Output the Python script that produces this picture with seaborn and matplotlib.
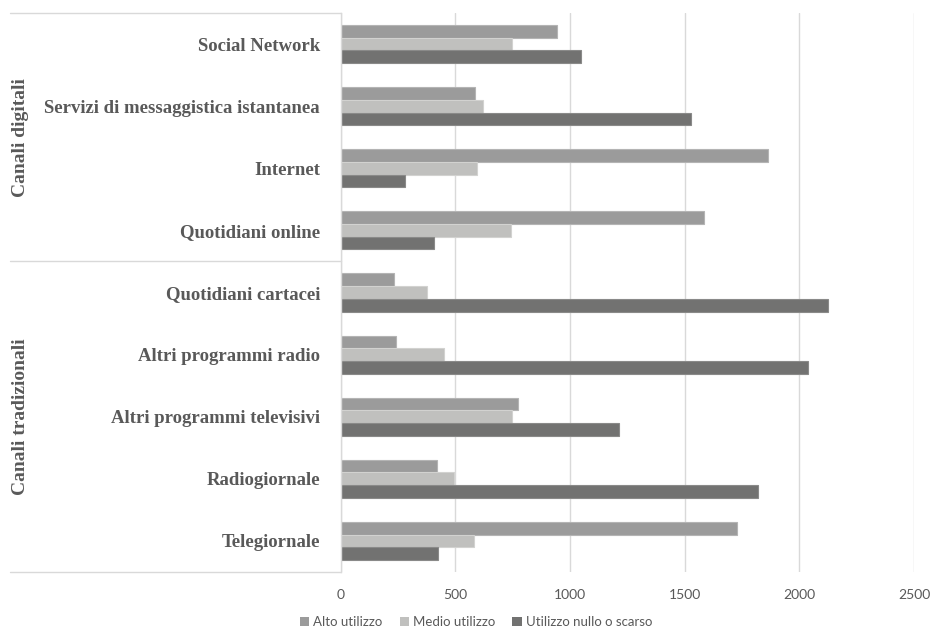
import matplotlib
matplotlib.use("Agg")
import matplotlib.pyplot as plt
import seaborn as sns
import pandas as pd
from matplotlib.lines import Line2D
from matplotlib.patches import Patch

canali = [
    "Social Network",
    "Servizi di messaggistica istantanea",
    "Internet",
    "Quotidiani online",
    "Quotidiani cartacei",
    "Altri programmi radio",
    "Altri programmi televisivi",
    "Radiogiornale",
    "Telegiornale",
]
gruppi = ["Canali digitali", "Canali tradizionali"]
n_digitali = 4

livelli = ["Alto utilizzo", "Medio utilizzo", "Utilizzo nullo o scarso"]
alto = [941, 584, 1863, 1582, 230, 242, 774, 420, 1727]
medio = [747, 622, 594, 741, 377, 452, 747, 492, 579]
nullo = [1047, 1527, 280, 407, 2127, 2036, 1213, 1819, 424]

colori = ["#9b9b9b", "#c0c0be", "#727271"]
bordi = ["#b4b4b4", "#d2d2d0", "#8a8a89"]

df = pd.DataFrame({
    "canale": canali * 3,
    "valore": alto + medio + nullo,
    "uso": [livelli[0]] * 9 + [livelli[1]] * 9 + [livelli[2]] * 9,
})

sns.set_style("white")
fig = plt.figure(figsize=(9.31, 6.27), dpi=100)
W, H = 931, 627
x0, x1, y_top, y_bot = 340.8, 914, 13, 572
ax = fig.add_axes([x0 / W, 1 - y_bot / H, (x1 - x0) / W, (y_bot - y_top) / H])

sns.barplot(data=df, y="canale", x="valore", hue="uso", order=canali,
            hue_order=livelli, palette=colori, orient="h", width=0.615,
            dodge=True, ax=ax, legend=False, saturation=1)

for i, cont in enumerate(ax.containers):
    for bar in cont:
        bar.set_edgecolor(bordi[i])
        bar.set_linewidth(0.8)

ax.set_xlim(0, 2500)
ax.set_ylim(len(canali) - 0.5, -0.5)
ax.set_xticks([0, 500, 1000, 1500, 2000, 2500])
ax.xaxis.grid(True, color="#d9d9d9", linewidth=1)
ax.set_axisbelow(True)
for s in ["top", "right", "bottom"]:
    ax.spines[s].set_visible(False)
ax.spines["left"].set_color("#d9d9d9")
ax.spines["left"].set_linewidth(1)
ax.tick_params(axis="x", length=0, pad=12, labelsize=10, labelcolor="#595959")
for lab in ax.get_xticklabels():
    lab.set_fontfamily("Lato")
ax.tick_params(axis="y", length=0, pad=15)
ax.set_yticks(range(len(canali)))
ax.set_yticklabels(canali, fontfamily="Liberation Serif", fontweight="bold",
                   fontsize=13.5, color="#595959")
ax.set_xlabel("")
ax.set_ylabel("")

# category group table on the left
tr = ax.get_yaxis_transform()
left_ax = (10 - x0) / (x1 - x0)
for yv in [-0.5, n_digitali - 0.5, len(canali) - 0.5]:
    ax.add_line(Line2D([left_ax, 0], [yv, yv], transform=tr, color="#d9d9d9",
                       linewidth=1, clip_on=False))
gx = (21 - x0) / (x1 - x0)
ax.text(gx, (n_digitali - 1) / 2, gruppi[0], transform=tr, rotation=90,
        ha="center", va="center", fontfamily="Liberation Serif",
        fontweight="bold", fontsize=14, color="#595959")
ax.text(gx, (n_digitali + len(canali) - 1) / 2, gruppi[1], transform=tr,
        rotation=90, ha="center", va="center", fontfamily="Liberation Serif",
        fontweight="bold", fontsize=14, color="#595959")

handles = [Patch(facecolor=c, edgecolor="none") for c in colori]
leg = fig.legend(handles, livelli, loc="center", bbox_to_anchor=(476 / W, 1 - 622 / H),
                 ncol=3, frameon=False, handlelength=0.7, handleheight=0.7,
                 handletextpad=0.3, columnspacing=1.3,
                 prop={"family": "Lato", "size": 9.5})
for t in leg.get_texts():
    t.set_color("#595959")

fig.savefig("out.png", dpi=100)
